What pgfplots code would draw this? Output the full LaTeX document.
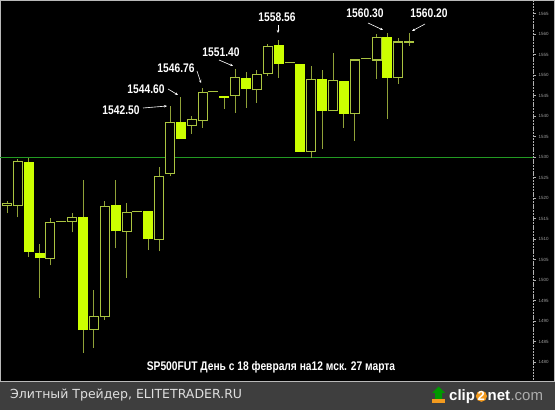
\documentclass[border=0pt]{standalone}
\usepackage{pgfplots}
\usepackage{pgfplotstable}
\pgfplotsset{compat=1.18}
\usetikzlibrary{arrows.meta}
\usepackage{fontspec}
\setmainfont{Liberation Sans}
\newfontfamily\nb[FakeStretch=0.82]{Liberation Sans}
\newfontfamily\dv{DejaVu Sans}
\definecolor{lime}{HTML}{CCFF00}
\definecolor{bodyc}{HTML}{AAC440}
\definecolor{wickc}{HTML}{90A238}
\definecolor{hgreen}{HTML}{229A22}
\definecolor{footer}{HTML}{3E3E3E}
\definecolor{orng}{HTML}{F29A1E}
% i = candle, lo = low, bo = body bottom, to = body top, hi = high
\pgfplotstableread{
i lo bo to hi
3 1505.6 1506.8 1528.7 1529.9
4 1495.6 1505.3 1506.5 1508.7
8 1482.2 1487.8 1515.3 1524.5
11 1507.7 1511.9 1518.2 1524.3
14 1507.3 1509.9 1516.8 1516.8
17 1534.5 1534.5 1538.65 1544.6
21 1541.8 1544.5 1545.0 1545.0
23 1542.1 1546.7 1549.4 1550.8
26 1549.4 1552.8 1557.4 1558.56
28 1531.35 1531.35 1552.8 1552.8
30 1532.1 1541.3 1549.1 1551.3
32 1537.2 1540.6 1548.6 1548.6
36 1539.4 1549.4 1559.3 1560.3
}\filled
\pgfplotstableread{
i lo bo to hi
1 1516.3 1518.2 1518.7 1519.4
2 1515.3 1518.2 1528.9 1529.65
5 1503.6 1505.3 1514.1 1515.05
6 1514.3 1514.3 1514.3 1514.3
7 1511.6 1514.3 1515.3 1516.3
9 1483.4 1488.0 1491.0 1497.5
10 1490.3 1491.0 1518.0 1519.2
12 1500.5 1511.9 1516.5 1518.7
13 1516.8 1516.8 1516.8 1516.8
15 1507.0 1509.9 1525.3 1527.5
16 1525.3 1526.0 1538.4 1542.5
18 1535.7 1537.7 1539.1 1540.1
19 1537.2 1538.9 1545.7 1546.76
20 1546.0 1546.0 1546.0 1546.0
22 1540.8 1545.0 1549.4 1551.4
24 1543.3 1546.4 1550.1 1551.3
25 1549.8 1550.3 1556.9 1557.6
27 1553.0 1553.0 1553.0 1553.0
29 1529.9 1531.35 1548.9 1552.3
31 1541.3 1541.3 1548.6 1555.4
33 1534.0 1540.6 1553.7 1553.7
34 1554.0 1554.0 1554.0 1554.0
35 1549.1 1553.7 1559.1 1560.1
37 1547.9 1549.4 1558.1 1559.1
38 1557.1 1558.1 1558.1 1560.2
}\hollow
\begin{document}
\begin{tikzpicture}
\begin{scope}[x=1pt,y=1pt]
\fill[black] (0,29) rectangle (555,410);
\fill[footer] (0,0) rectangle (555,29);
\draw[gray!55, line width=0.8pt] (0.4,29) rectangle (554.6,409.6);
\end{scope}
\begin{axis}[at={(0pt,30pt)}, anchor=south west, scale only axis,
  width=533pt, height=379pt,
  xmin=0.355, xmax=49.4, ymin=1475.6, ymax=1568.1,
  axis x line=none, axis y line*=right,
  axis line style={gray!60, densely dotted, line width=0.5pt},
  ytick={1480,1485,...,1565}, minor y tick num=4,
  tick align=outside, major tick length=3pt, minor tick length=1.2pt,
  tick style={gray!60, solid, line width=0.4pt},
  yticklabel style={font=\fontsize{4.5}{5}\selectfont, text=gray!75, /pgf/number format/1000 sep={}, xshift=-1pt},
  /pgf/number format/assume math mode=true,
]
\addplot[color=hgreen, line width=1pt] coordinates {(0.355,1530) (49.4,1530)};
% wicks
\addplot[draw=none, error bars/.cd, y dir=plus, y explicit, error mark=none,
  error bar style={draw=wickc, line width=1pt, solid}]
  table[x=i, y=lo, y error expr=\thisrow{hi}-\thisrow{lo}] {\filled};
\addplot[draw=none, error bars/.cd, y dir=plus, y explicit, error mark=none,
  error bar style={draw=wickc, line width=1pt, solid}]
  table[x=i, y=lo, y error expr=\thisrow{hi}-\thisrow{lo}] {\hollow};
% filled bodies
\addplot[draw=none, error bars/.cd, y dir=plus, y explicit, error mark=none,
  error bar style={draw=lime, line width=10pt, solid, line cap=butt}]
  table[x=i, y=bo, y error expr=\thisrow{to}-\thisrow{bo}] {\filled};
% hollow bodies: outline then black inside
\addplot[draw=none, error bars/.cd, y dir=plus, y explicit, error mark=none,
  error bar style={draw=bodyc, line width=10pt, solid, line cap=butt}]
  table[x=i, y expr=\thisrow{bo}-0.13, y error expr=\thisrow{to}-\thisrow{bo}+0.26] {\hollow};
\addplot[draw=none, error bars/.cd, y dir=plus, y explicit, error mark=none,
  error bar style={draw=black, line width=8pt, solid, line cap=butt}]
  table[x=i, y expr=\thisrow{bo}+0.13, y error expr={max(\thisrow{to}-\thisrow{bo}-0.26,0)}] {\hollow};
\end{axis}
\begin{scope}[x=1pt,y=1pt]
\tikzset{lab/.style={text=white, font=\nb\bfseries\fontsize{12.5}{13}\selectfont, inner sep=0pt},
  arr/.style={white, line width=0.6pt, -{Stealth[length=3pt,width=2.5pt]}}}
\node[lab] at (121,300) {1542.50};
\draw[arr] (143,302) -- (167,304);
\node[lab] at (146,321) {1544.60};
\draw[arr] (168,321) -- (178,315);
\node[lab] at (176,342) {1546.76};
\draw[arr] (197,339) -- (201,327);
\node[lab] at (221,358) {1551.40};
\draw[arr] (219,350) -- (233,344);
\node[lab] at (277,393) {1558.56};
\draw[arr] (278,385) -- (278,377);
\node[lab] at (365,397) {1560.30};
\draw[arr] (368,387) -- (383,380);
\node[lab] at (429,397) {1560.20};
\draw[arr] (425,386) -- (412,379);
\node[lab] at (271,43) {SP500FUT День с 18 февраля на12 мск. 27 марта};
\node[anchor=west, inner sep=0pt, text=gray!25, font=\dv\fontsize{12.5}{13}\selectfont] at (10,14.5) {Элитный Трейдер, ELITETRADER.RU};
\fill[orng] (432,7) rectangle (445,11);
\fill[green!60!black] (435,11) -- (435,17) -- (432,17) -- (438.5,23.5) -- (445,17) -- (442,17) -- (442,11) -- cycle;
\node[anchor=base west, inner sep=0pt, text=white, font=\bfseries\fontsize{15}{16}\selectfont] (c1) at (449,9) {clip};
\fill[orng] ([xshift=6.2pt]c1.base east) ++(0,4.8) circle (5.6pt);
\node[anchor=base west, inner sep=0pt, text=white, font=\bfseries\fontsize{13}{14}\selectfont] (c2) at ([xshift=2.3pt]c1.base east) {2};
\node[anchor=base west, inner sep=0pt, text=white, font=\bfseries\fontsize{15}{16}\selectfont] (c3) at ([xshift=2.3pt]c2.base east) {net};
\node[anchor=base west, inner sep=0pt, text=gray!65, font=\fontsize{15}{16}\selectfont] at (c3.base east) {.com};
\pgfresetboundingbox
\path (0,0) rectangle (555,410);
\end{scope}
\end{tikzpicture}
\end{document}
